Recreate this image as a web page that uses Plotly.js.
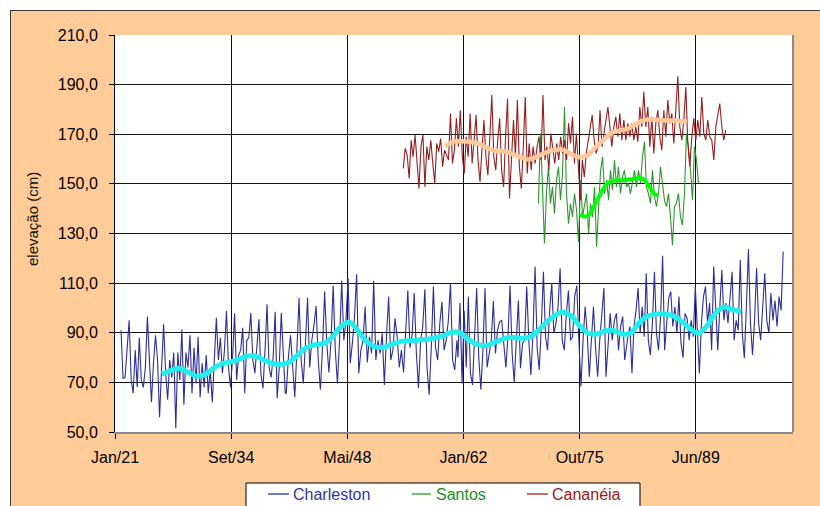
<!DOCTYPE html>
<html>
<head>
<meta charset="utf-8">
<script src="https://cdn.plot.ly/plotly-3.0.1.min.js"></script>
<style>
html,body{margin:0;padding:0;background:#fff;}
#chart{width:820px;height:506px;}
</style>
</head>
<body>
<div id="chart"></div>
<script>
// ---------- tick labels ----------
const xTickLabels = ['Jan/21','Set/34','Mai/48','Jan/62','Out/75','Jun/89'];
const xTickStartYear = 1921;
const xTickStepDays = 5000;
const yTickValues = [50,70,90,110,130,150,170,190,210];

// ---------- series names ----------
const seriesNames = ['Charleston','Santos','Cananéia'];

// ---------- Charleston (monthly sea level, read in ~20-year blocks) ----------
const charlestonA = [91,71.6,72,82,95,71,65.6,83,68,88,71,68,76,96.5,76,62,77.7,89,79,56,76,93.4,73.7,63,79,72,82,51.5,82,71,91.4,61,82,76,89,65.6,84,69.6,88.4,64,77.7,68,81,65.6,75,62,79,96,79,88,73.7,83,98.8,76,68,80,97.8,71,81,83,92,65.6,87,88,98,79,73.7,87,95.4,73,67.6,83,101.5,76,72,80,98.5,63.6,76,98,79,65.6];
const charlestonASpan = [1921.71, 1941.07];
const charlestonB = [65.6,80,89,75,64,83,104,79,69.6,85.8,104,76,87,93,100.8,79,67,84,106.6,85.8,74,87,109,83,69.6,87,111,87,95,112,77.7,85.8,96.5,113.6,73.7,83,87,100.5,78,88.4,81.7,111,79,87,81.7,89.8,69,88.4,104.6,79,83,95.8,88.4,76,83,74,93.8,107,84,89,106,81.7,67.6,87,92.5,107.5,76,65,84,108.6,84,79,93.8,102.5,83,87,95,110,79,75,87];
const charlestonBSpan = [1941.18, 1961.29];
const charlestonC = [80,102,69.6,99,76,104.6,73.7,69,87,108,80,67,83,108,76,81.7,87,102.8,81.7,91,94.5,95,84,76,88.4,109,81.7,70,87,103,75.7,85.8,87,108.6,87,73,89.8,116.7,84,75,92.5,114.6,88.4,83,99,110,89.8,93.8,100.5,116,87,83,97.8,107,87,88.4,104.6,109,87,68.3,87,100.5,89.8,72.3,87,100.5,84,72.3,87,97.8,108,72.3,87,97.8,87,95,97.8,83,92.5,96.5,79,87];
const charlestonCSpan = [1961.41, 1981.32];
const charlestonD = [88.4,92.5,73.7,92.5,99,108,89.8,100.5,88.4,114,87,81,93.8,114.6,89.8,83,96.5,121,83,93.8,104,106.6,92.5,100.5,89.8,104.6,85.8,80,97.8,95.8,87,95,88.4,108.6,89.8,73.7,93.8,104.6,108.6,93.8,102,83,116.7,97.8,83,100.5,115.3,95,102,93.8,103,114.6,87,95,91,119.4,89.8,79.7,100.5,123.6,93.8,81,95,116,93.8,87,100.5,114,95,89.8,106,95,103,92.5,104.6,99,122.7];
const charlestonDSpan = [1981.44, 1999.74];

// ---------- Cananéia ----------
const cananeiaA = [156.2,164.3,161.6,152.2,167.6,161,169.7,157,148.1,165,169.7,148.8,165,159.6,167.6,158.2,150.2,166.3,163,168.3,156.9,163.6,161.6,159.6,178.4,158.2,163.6,176.4,165,179.7,161,154.2,169,161,178.4,158.2,167.6,177.7,159.6,150.8,163.6,175.7,161,153.5,169,185.8,161,155.5,167.6,176.4,155.5,148.8,169,184.4,144.1,159.6,175.7,161,183.8,157,148.1,165,185,154.2,166.3,155.5,165,158.2,165,169,159.6,185.8,159.6,165,155.5,170.3,165,158.2,166.3,159.6,169,162.3,167.6,159.6,174.4,166.3,177,158.2,170.3,155.5,143.4,159.6,152.8,162.3,167.6,171.7,177.7,167.6,162.3,165,179.7,165,170.3,175.7,181,173];
const cananeiaASpan = [1954.97, 1979.32];
const cananeiaB = [165,173,177,169,178.4,167.6,175.7,167.6,174.4,169,174.4,167.6,173,167,181,173,187.1,173,181,165,177,162.3,174.4,179.7,169,163.6,179.7,169,183.8,174.4,178.4,166.3,182.4,193.4,173,167.6,175.7,189,166.3,156.9,169,176.4,167.6,175.7,169,185,170.3,167.6,175.7,169,167.6,159.6,173,177,182.4,173,167.6,171.7];
const cananeiaBSpan = [1979.55, 1992.98];

// ---------- Santos ----------
const santosA = [142.1,170.3,148.8,126,146.1,156.9,142.1,148.8,138,151.5,156.9,143.4,154.2,181,146.1,134,142.1,136.7,146.1,139.4,126.6,151.5,136.7,142.1,146.1,130,142.1,136.7,148.8,124.6,142.1,155.5,160.9,146.1,151.5,143.4];
const santosASpan = [1970.9, 1979.17];
const santosB = [155.5,147.5,159.6,148.8,156.9,146.1,152.8,155.5,148.8,150.2,146.1,150.2,155.5,148.8,155.5,150.2,160.9,167,148.8,146.1,142.1,155.5,144.8,140.8,146.1,156.9,148.8,143.4,140.8,146.1,136.7,125.3,140.8,142.1,146.1,136.7,133.4,146.1,170.3,165,155.5,143.4,165,159.6,150.2];
const santosBSpan = [1979.39, 1989.76];

// ---------- moving averages ----------
const charlestonAvg = [73.3,74.6,75.7,74.3,72.6,73.0,75.5,77.4,78.2,79.2,80.6,80.6,79.0,77.6,77.3,78.2,81.2,84.0,85.2,85.6,88.2,92.3,94.2,91.0,86.6,84.4,84.1,85.3,86.4,86.8,87.0,87.3,87.9,88.7,90.2,90.0,87.3,85.3,84.8,86.0,87.4,88.2,87.8,88.0,90.3,93.8,96.6,98.4,96.9,93.0,89.9,89.5,90.7,90.9,89.5,89.8,94.0,96.6,97.5,97.6,96.8,94.6,91.6,89.9,92.9,98.0,100.4,99.3,98.6];
const charlestonAvgSpan = [1926.5, 1994.8];
const cananeiaAvg = [165.2,167.0,167.2,167.0,166.2,164.6,163.3,163.2,162.2,160.8,159.8,160.9,162.5,163.6,163.9,162.2,160.8,161.4,164.5,167.8,170.6,171.5,172.4,174.4,175.8,175.9,175.6,175.5,175.3,175.0];
const cananeiaAvgSpan = [1959.9, 1988.4];
const santosAvg = [137.8,136.8,137.2,139.6,143,146,148.8,150.5,151.3,151.5,151.5,151.6,151.8,152.0,152.4,152.2,151.0,148.6,146.0,145.3];
const santosAvgSpan = [1975.8, 1985.0];

// ---------- helpers ----------
function yearsFor(vals, span){
  const n = vals.length;
  return vals.map((_, i) => span[0] + (span[1] - span[0]) * i / (n - 1));
}
function joinBlocks(blocks){
  let x = [], y = [];
  blocks.forEach(b => { x = x.concat(yearsFor(b[0], b[1])); y = y.concat(b[0]); });
  return {x, y};
}

const ch = joinBlocks([[charlestonA, charlestonASpan],[charlestonB, charlestonBSpan],[charlestonC, charlestonCSpan],[charlestonD, charlestonDSpan]]);
const ca = joinBlocks([[cananeiaA, cananeiaASpan],[cananeiaB, cananeiaBSpan]]);
const sa = joinBlocks([[santosA, santosASpan],[santosB, santosBSpan]]);

const colors = {ch:'#2E2E96', sa:'#2F962F', ca:'#951F1F', chAvg:'#22EEEE', caAvg:'#FFC898', saAvg:'#00FF00'};
const textColors = {ch:'#3333A8', sa:'#169016', ca:'#961818'};

const traces = [
  {type:'scatter', mode:'lines', name:seriesNames[0], x:ch.x, y:ch.y, line:{color:colors.ch, width:1.1}, hoverinfo:'skip'},
  {type:'scatter', mode:'lines', name:seriesNames[1], x:sa.x, y:sa.y, line:{color:colors.sa, width:1.1}, hoverinfo:'skip'},
  {type:'scatter', mode:'lines', name:seriesNames[2], x:ca.x, y:ca.y, line:{color:colors.ca, width:1.1}, hoverinfo:'skip'},
  {type:'scatter', mode:'lines', name:'Charleston média', x:yearsFor(charlestonAvg, charlestonAvgSpan), y:charlestonAvg, line:{color:colors.chAvg, width:5, shape:'spline'}, hoverinfo:'skip'},
  {type:'scatter', mode:'lines', name:'Cananéia média', x:yearsFor(cananeiaAvg, cananeiaAvgSpan), y:cananeiaAvg, line:{color:colors.caAvg, width:4.5, shape:'spline'}, hoverinfo:'skip'},
  {type:'scatter', mode:'lines', name:'Santos média', x:yearsFor(santosAvg, santosAvgSpan), y:santosAvg, line:{color:colors.saAvg, width:4, shape:'spline'}, hoverinfo:'skip'}
];

// ---------- layout geometry (pixels -> paper) ----------
const W = 820, H = 506, L = 115, R = 793, T = 35, B = 432;
const px = v => (v - L) / (R - L);
const py = v => (B - v) / (B - T);

const xTickVals = xTickLabels.map((_, i) => xTickStartYear + i * xTickStepDays / 365.25);

const font = 'Liberation Sans, Arial, sans-serif';

const legendItems = [
  {line:[268,289], text:292, color:colors.ch, tcolor:textColors.ch, label:seriesNames[0]},
  {line:[412,431], text:435, color:colors.sa, tcolor:textColors.sa, label:seriesNames[1]},
  {line:[527,548], text:551, color:colors.ca, tcolor:textColors.ca, label:seriesNames[2]}
];
const legendY = 494;

const shapes = [
  {type:'rect', xref:'paper', yref:'paper', x0:px(-5), x1:px(W+5), y0:py(-5), y1:py(10), fillcolor:'#ffffff', line:{width:0}, layer:'below'},
  {type:'rect', xref:'paper', yref:'paper', x0:px(-5), x1:px(10), y0:py(-5), y1:py(H+5), fillcolor:'#ffffff', line:{width:0}, layer:'below'},
  {type:'line', xref:'paper', yref:'paper', x0:px(10), x1:px(W+5), y0:py(10.5), y1:py(10.5), line:{color:'#3a3a3a', width:1}},
  {type:'line', xref:'paper', yref:'paper', x0:px(10.5), x1:px(10.5), y0:py(10), y1:py(H+5), line:{color:'#3a3a3a', width:1}},
  {type:'line', xref:'paper', yref:'paper', x0:1, x1:1, y0:0, y1:1, line:{color:'#8a8a8a', width:2}},
  {type:'rect', xref:'paper', yref:'paper', x0:px(246), x1:px(640), y0:py(483), y1:py(H+20), fillcolor:'#ffffff', line:{color:'#000', width:1}}
];
legendItems.forEach(it => shapes.push({type:'line', xref:'paper', yref:'paper', x0:px(it.line[0]), x1:px(it.line[1]), y0:py(legendY), y1:py(legendY), line:{color:it.color, width:1.3}}));

const annotations = [
  {xref:'paper', yref:'paper', x:px(32), y:py(219), text:'elevação (cm)', textangle:-90, showarrow:false, xanchor:'center', yanchor:'middle', font:{family:font, size:15, color:'#111'}}
];
legendItems.forEach(it => annotations.push({xref:'paper', yref:'paper', x:px(it.text), y:py(legendY), text:it.label, showarrow:false, xanchor:'left', yanchor:'middle', borderpad:0, font:{family:font, size:16, color:it.tcolor}}));

const layout = {
  width: W, height: H,
  margin: {l:L, r:W-R, t:T, b:H-B, pad:0},
  paper_bgcolor: '#FFCC99',
  plot_bgcolor: '#ffffff',
  separators: ',.',
  font: {family:font, size:16, color:'#000'},
  showlegend: false,
  xaxis: {
    range: [1921, 2000.9], tickmode:'array', tickvals:xTickVals, ticktext:xTickLabels,
    ticks:'outside', ticklen:5, tickcolor:'#000', tickwidth:1,
    showgrid:true, gridcolor:'#111', gridwidth:1, zeroline:false,
    showline:true, linecolor:'#8a8a8a', linewidth:2,
    tickfont:{family:font, size:16, color:'#000'}, ticklabelstandoff:5, fixedrange:true
  },
  yaxis: {
    range: [50, 210], tickmode:'array', tickvals:yTickValues, tickformat:'.1f',
    ticks:'outside', ticklen:5, tickcolor:'#000', tickwidth:1,
    showgrid:true, gridcolor:'#111', gridwidth:1, zeroline:false,
    showline:true, linecolor:'#000', linewidth:1,
    tickfont:{family:font, size:16, color:'#000'}, ticklabelstandoff:8, fixedrange:true
  },
  shapes: shapes,
  annotations: annotations
};

Plotly.newPlot('chart', traces, layout, {staticPlot:true, displayModeBar:false});
</script>
</body>
</html>
